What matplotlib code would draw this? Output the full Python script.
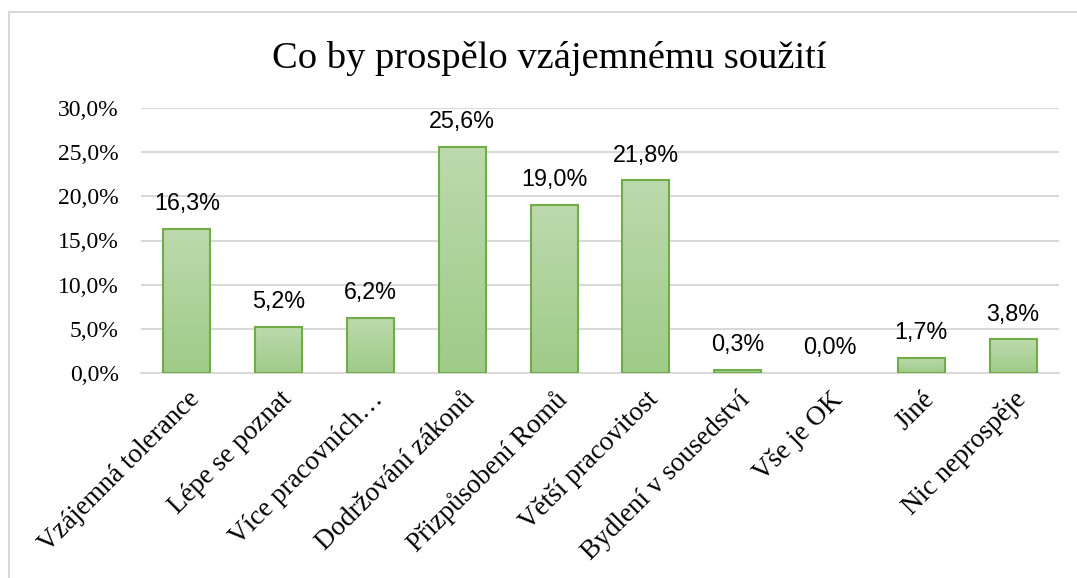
"""Bar chart: Co by prospělo vzájemnému soužití."""
import matplotlib
matplotlib.use("Agg")
import matplotlib.pyplot as plt  # noqa: E402
import numpy as np  # noqa: E402
from matplotlib.colors import LinearSegmentedColormap  # noqa: E402
from matplotlib.patches import Rectangle  # noqa: E402

categories = [
    "Vzájemná tolerance", "Lépe se poznat", "Více pracovních…",
    "Dodržování zákonů", "Přizpůsobení Romů", "Větší pracovitost",
    "Bydlení v sousedství", "Vše je OK", "Jiné", "Nic neprospěje",
]
values = [16.3, 5.2, 6.2, 25.6, 19.0, 21.8, 0.3, 0.0, 1.7, 3.8]
yticks = [0, 5, 10, 15, 20, 25, 30]
title = "Co by prospělo vzájemnému soužití"

serif = "Liberation Serif"
sans = "Liberation Sans"

fig = plt.figure(figsize=(10.77, 5.78), dpi=100)
fig.patches.append(Rectangle((9 / 1077, -0.1), 1.2, 1 - 12 / 578 + 0.1,
                             transform=fig.transFigure, fill=False,
                             edgecolor="#d9d9d9", linewidth=1.5))
ax = fig.add_axes([141 / 1077, 1 - 373 / 578, 918 / 1077, 265 / 578])

x = np.arange(len(categories))
bars = ax.bar(x, values, width=0.51, color="none", edgecolor="#70ad47",
              linewidth=1.5, zorder=3)
cmap = LinearSegmentedColormap.from_list("g", ["#9fcb88", "#bcdaad"])
grad = np.linspace(0, 1, 100).reshape(-1, 1)
for b in bars:
    h = b.get_height()
    if h <= 0:
        b.set_linewidth(0)
        continue
    im = ax.imshow(grad, cmap=cmap, origin="lower", aspect="auto",
                   extent=[b.get_x(), b.get_x() + b.get_width(), 0, h],
                   zorder=2)
    im.set_clip_path(b)

for xi, v in zip(x, values):
    ax.annotate(f"{v:.1f}%".replace(".", ","), (xi, v), xytext=(0, 10),
                textcoords="offset points", ha="center", va="bottom",
                fontsize=16.8, family=sans, color="#000000")

ax.set_xlim(-0.5, len(categories) - 0.5)
ax.set_ylim(0, 30)
ax.set_yticks(yticks)
ax.set_yticklabels([f"{t:.1f}%".replace(".", ",") for t in yticks],
                   family=serif, fontsize=17)
ax.set_xticks(x)
ax.set_xticklabels(categories, rotation=45, ha="right",
                   rotation_mode="anchor", family=serif, fontsize=19.5)
ax.tick_params(length=0)
ax.tick_params(axis="y", pad=16)
ax.tick_params(axis="x", pad=10)
ax.grid(axis="y", color="#d9d9d9", linewidth=1.5, zorder=0)
for s in ["top", "right", "left"]:
    ax.spines[s].set_visible(False)
ax.spines["bottom"].set_color("#d9d9d9")
ax.spines["bottom"].set_linewidth(1.5)
ax.set_axisbelow(True)

fig.text(549 / 1077, 1 - 58 / 578, title, ha="center", va="center",
         family=serif, fontsize=27.7)

fig.savefig("out.png", dpi=100)
